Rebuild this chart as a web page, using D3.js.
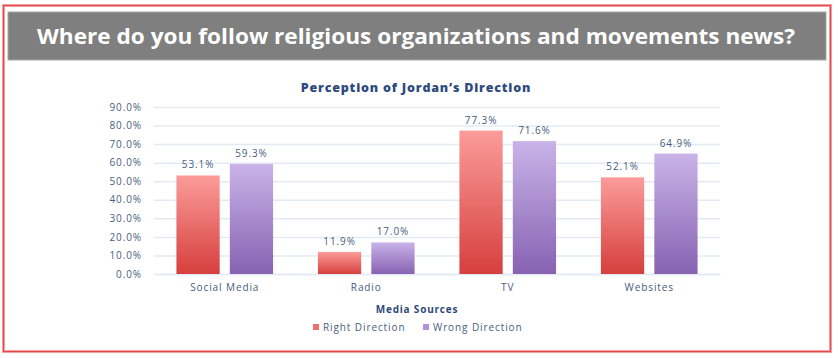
<!DOCTYPE html>
<html><head><meta charset="utf-8">
<script src="https://cdn.jsdelivr.net/npm/d3@7"></script>
<style>body{margin:0;background:#fff;}svg{display:block;}</style>
</head><body><svg id="c" width="838" height="358"></svg>
<script>
const categories = ["Social Media", "Radio", "TV", "Websites"];
const seriesNames = ["Right Direction", "Wrong Direction"];
const rightDirection = [53.1, 11.9, 77.3, 52.1];
const wrongDirection = [59.3, 17.0, 71.6, 64.9];
const yTicks = [0, 10, 20, 30, 40, 50, 60, 70, 80, 90];
const mainTitle = "Where do you follow religious organizations and movements news?";
const chartTitle = "Perception of Jordan\u2019s Direction";
const xAxisTitle = "Media Sources";

const svg = d3.select("#c");
const font = "'Open Sans', sans-serif";
const txt = "#4a5d80";
const ls = 0.9;

// outer frame
svg.append("rect").attr("x",3.5).attr("y",5.5).attr("width",827).attr("height",346)
  .attr("fill","#fff").attr("stroke","#f0a0a0").attr("stroke-width",3);
svg.append("rect").attr("x",3.5).attr("y",5.5).attr("width",827).attr("height",346)
  .attr("fill","none").attr("stroke","#e8474c").attr("stroke-width",1);
// banner
svg.append("rect").attr("x",8).attr("y",12).attr("width",818).attr("height",48)
  .attr("fill","#7f7f7f").attr("stroke","#a6a6a6").attr("stroke-width",1);
svg.append("text").attr("x",416).attr("y",44).attr("text-anchor","middle")
  .attr("font-family",font).attr("font-weight","bold").attr("font-size",21)
  .attr("textLength",758).attr("lengthAdjust","spacingAndGlyphs")
  .attr("fill","#fff").text(mainTitle);

const m = {l:154, r:720, t:107, b:274};
const x = d3.scaleBand().domain(categories).range([m.l, m.r]);
const y = d3.scaleLinear().domain([0, 90]).range([m.b, m.t]);
const sub = d3.scaleBand().domain(seriesNames).range([0, x.bandwidth()]).paddingInner(0.19).paddingOuter(0.42);

const defs = svg.append("defs");
const grads = [["gR","#fb9c9a","#d63f3d"],["gW","#c9b3e8","#8762b2"]];
grads.forEach(([id,top,bot])=>{
  const g = defs.append("linearGradient").attr("id",id).attr("x1",0).attr("y1",0).attr("x2",0).attr("y2",1);
  g.append("stop").attr("offset","0%").attr("stop-color",top);
  g.append("stop").attr("offset","100%").attr("stop-color",bot);
});

svg.append("text").attr("x",416).attr("y",92).attr("text-anchor","middle")
  .attr("font-family",font).attr("font-weight","800").attr("font-size",12.5)
  .attr("letter-spacing",0.8).attr("fill","#2f4a7c").text(chartTitle);

// grid
const yAxis = d3.axisLeft(y).tickValues(yTicks).tickSize(-(m.r-m.l)).tickFormat(d=>d.toFixed(1)+"%");
const ga = svg.append("g").attr("transform",`translate(${m.l},0)`).call(yAxis);
ga.select(".domain").remove();
ga.selectAll(".tick line").attr("stroke","#e4eaf3").attr("stroke-width",1.5);
ga.selectAll(".tick text").attr("x",-12).attr("font-family",font).attr("font-size",10)
  .attr("letter-spacing",ls).attr("fill",txt);

const xAxis = d3.axisBottom(x).tickSize(0).tickPadding(10);
const gx = svg.append("g").attr("transform",`translate(0,${m.b})`).call(xAxis);
gx.select(".domain").attr("stroke","#e4eaf3").attr("stroke-width",1.5);
gx.selectAll(".tick text").attr("font-family",font).attr("font-size",10)
  .attr("letter-spacing",ls).attr("fill",txt);

const data = categories.map((c,i)=>({c, vals:[rightDirection[i], wrongDirection[i]]}));
const fills = ["url(#gR)","url(#gW)"];
data.forEach(d=>{
  d.vals.forEach((v,j)=>{
    const bx = x(d.c)+sub(seriesNames[j]);
    svg.append("rect").attr("x",bx).attr("y",y(v)).attr("width",sub.bandwidth())
      .attr("height",y(0)-y(v)).attr("fill",fills[j]);
    svg.append("text").attr("x",bx+sub.bandwidth()/2).attr("y",y(v)-7)
      .attr("text-anchor","middle").attr("font-family",font).attr("font-size",10)
      .attr("letter-spacing",ls).attr("fill",txt).text(v.toFixed(1)+"%");
  });
});

svg.append("text").attr("x",417).attr("y",313).attr("text-anchor","middle")
  .attr("font-family",font).attr("font-weight","bold").attr("font-size",10)
  .attr("letter-spacing",0.8).attr("fill","#2f4a7c").text(xAxisTitle);

const legColors = ["#ef6f6d","#b391dc"];
const legX = [313, 423];
seriesNames.forEach((s,j)=>{
  svg.append("rect").attr("x",legX[j]).attr("y",324).attr("width",6).attr("height",6).attr("fill",legColors[j]);
  svg.append("text").attr("x",legX[j]+10).attr("y",330.5).attr("font-family",font).attr("font-size",10)
    .attr("letter-spacing",ls).attr("fill",txt).text(s);
});
</script></body></html>
